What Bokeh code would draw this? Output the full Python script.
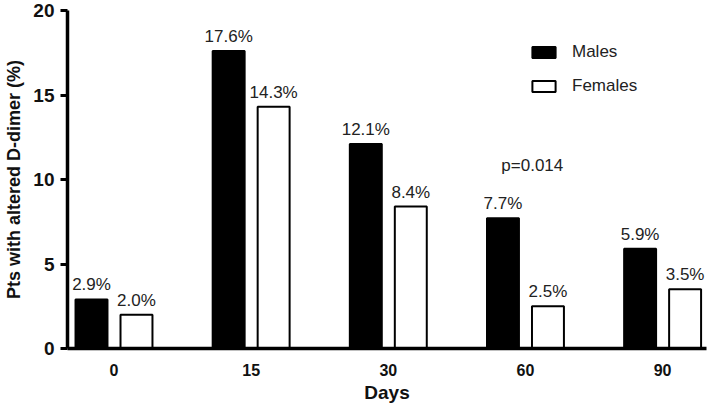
from bokeh.plotting import figure
from bokeh.models import ColumnDataSource, FixedTicker, LabelSet, Label, Legend, LegendItem, Range1d
from bokeh.core.properties import value
from bokeh.embed import file_html
from bokeh.resources import INLINE

days = ["0", "15", "30", "60", "90"]
males = [2.9, 17.6, 12.1, 7.7, 5.9]
females = [2.0, 14.3, 8.4, 2.5, 3.5]
y_ticks = [0, 5, 10, 15, 20]
p_text = "p=0.014"

FONT = "Liberation Sans"
idx = list(range(len(days)))
off = 0.164
bw = 0.233

src_m = ColumnDataSource(dict(x=[i - off for i in idx], top=males, lab=[f"{v:.1f}%" for v in males]))
src_f = ColumnDataSource(dict(x=[i + off for i in idx], top=females, lab=[f"{v:.1f}%" for v in females]))

p = figure(width=712, height=407, output_backend="svg", toolbar_location=None,
           x_range=Range1d(-0.339, 4.32), y_range=Range1d(0, 20),
           min_border_left=67, min_border_right=6, min_border_top=10, min_border_bottom=59)
p.outline_line_color = None
p.background_fill_color = "white"
p.border_fill_color = "white"
p.xgrid.visible = False
p.ygrid.visible = False

rm = p.vbar(x="x", top="top", width=bw, source=src_m, fill_color="black", line_color="black", line_width=2)
rf = p.vbar(x="x", top="top", width=bw, source=src_f, fill_color="white", line_color="black", line_width=2)

for s in (src_m, src_f):
    p.add_layout(LabelSet(x="x", y="top", text="lab", source=s, text_align="center",
                          text_baseline="alphabetic", y_offset=9, text_font=value(FONT),
                          text_font_size="17px", text_color="#222222"))

p.add_layout(Label(x=3.05, y=10.83, text=p_text, text_align="center", text_baseline="alphabetic",
                   text_font=FONT, text_font_size="17px", text_color="#222222"))

# axes
xa = p.xaxis[0]
xa.ticker = FixedTicker(ticks=idx)
xa.major_label_overrides = {i: d for i, d in zip(idx, days)}
xa.major_tick_out = 0
xa.major_tick_in = 0
xa.minor_tick_out = 0
xa.minor_tick_in = 0
xa.axis_line_width = 3.5
xa.axis_line_color = "black"
xa.major_label_text_font = FONT
xa.major_label_text_font_style = "bold"
xa.major_label_text_font_size = "16px"
xa.major_label_text_color = "#111111"
xa.major_label_standoff = 15
xa.axis_label = "Days"
xa.axis_label_text_font = FONT
xa.axis_label_text_font_style = "bold"
xa.axis_label_text_font_size = "19px"
xa.axis_label_text_color = "#111111"
xa.axis_label_standoff = 3

ya = p.yaxis[0]
ya.ticker = FixedTicker(ticks=y_ticks)
ya.bounds = (0, 20)
ya.major_tick_out = 7
ya.major_tick_in = 0
ya.minor_tick_out = 0
ya.minor_tick_in = 0
ya.major_tick_line_width = 3
ya.axis_line_width = 3.5
ya.axis_line_color = "black"
ya.major_label_text_font = FONT
ya.major_label_text_font_style = "bold"
ya.major_label_text_font_size = "19px"
ya.major_label_text_color = "#111111"
ya.major_label_standoff = 6
ya.axis_label = "Pts with altered D-dimer (%)"
ya.axis_label_text_font = FONT
ya.axis_label_text_font_style = "bold"
ya.axis_label_text_font_size = "18px"
ya.axis_label_text_color = "#111111"
ya.axis_label_standoff = 6

legend = Legend(items=[LegendItem(label="Males", renderers=[rm]),
                       LegendItem(label="Females", renderers=[rf])],
                location=(462, 252), padding=0, margin=0, spacing=14,
                glyph_width=29, glyph_height=14, label_height=14, label_standoff=14,
                label_text_font=FONT, label_text_font_size="17px", label_text_color="#222222",
                border_line_color=None, background_fill_alpha=0)
p.add_layout(legend)

open("out.html", "w").write(file_html(p, INLINE))
